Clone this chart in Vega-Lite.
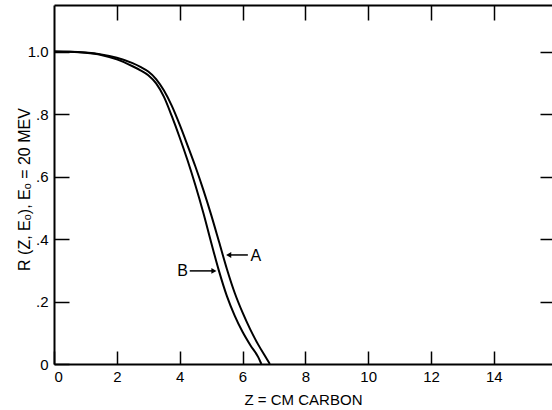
{
  "$schema": "https://vega.github.io/schema/vega-lite/v6.json",
  "width": 498,
  "height": 359,
  "autosize": {"type": "none"},
  "padding": {"left": 54, "top": 5, "right": 0, "bottom": 46},
  "background": "white",
  "config": {
    "view": {"stroke": null},
    "font": "Liberation Sans",
    "axis": {
      "grid": false,
      "domainColor": "black",
      "domainWidth": 2,
      "tickColor": "black",
      "tickWidth": 1.5,
      "labelColor": "black",
      "labelFontSize": 15,
      "titleColor": "black",
      "titleFontWeight": "normal"
    }
  },
  "datasets": {
    "curves": [
      {"curve": "B", "z": 0, "r": 1.0},
      {"curve": "B", "z": 0.5, "r": 0.999},
      {"curve": "B", "z": 1.0, "r": 0.996},
      {"curve": "B", "z": 1.5, "r": 0.989},
      {"curve": "B", "z": 2.0, "r": 0.975},
      {"curve": "B", "z": 2.5, "r": 0.953},
      {"curve": "B", "z": 2.75, "r": 0.94},
      {"curve": "B", "z": 3.0, "r": 0.924},
      {"curve": "B", "z": 3.25, "r": 0.898},
      {"curve": "B", "z": 3.5, "r": 0.855},
      {"curve": "B", "z": 3.75, "r": 0.793},
      {"curve": "B", "z": 4.0, "r": 0.725},
      {"curve": "B", "z": 4.25, "r": 0.652},
      {"curve": "B", "z": 4.5, "r": 0.572},
      {"curve": "B", "z": 4.75, "r": 0.485},
      {"curve": "B", "z": 5.0, "r": 0.39},
      {"curve": "B", "z": 5.25, "r": 0.298},
      {"curve": "B", "z": 5.5, "r": 0.218},
      {"curve": "B", "z": 5.75, "r": 0.155},
      {"curve": "B", "z": 6.0, "r": 0.103},
      {"curve": "B", "z": 6.25, "r": 0.06},
      {"curve": "B", "z": 6.5, "r": 0.022},
      {"curve": "B", "z": 6.6, "r": 0.0},
      {"curve": "A", "z": 0, "r": 1.0},
      {"curve": "A", "z": 0.5, "r": 0.9995},
      {"curve": "A", "z": 1.0, "r": 0.997},
      {"curve": "A", "z": 1.5, "r": 0.991},
      {"curve": "A", "z": 2.0, "r": 0.98},
      {"curve": "A", "z": 2.5, "r": 0.963},
      {"curve": "A", "z": 2.75, "r": 0.951},
      {"curve": "A", "z": 3.0, "r": 0.936},
      {"curve": "A", "z": 3.25, "r": 0.912},
      {"curve": "A", "z": 3.5, "r": 0.875},
      {"curve": "A", "z": 3.75, "r": 0.826},
      {"curve": "A", "z": 4.0, "r": 0.766},
      {"curve": "A", "z": 4.25, "r": 0.7},
      {"curve": "A", "z": 4.5, "r": 0.632},
      {"curve": "A", "z": 4.75, "r": 0.558},
      {"curve": "A", "z": 5.0, "r": 0.478},
      {"curve": "A", "z": 5.25, "r": 0.392},
      {"curve": "A", "z": 5.5, "r": 0.305},
      {"curve": "A", "z": 5.75, "r": 0.228},
      {"curve": "A", "z": 6.0, "r": 0.165},
      {"curve": "A", "z": 6.25, "r": 0.11},
      {"curve": "A", "z": 6.5, "r": 0.062},
      {"curve": "A", "z": 6.75, "r": 0.02},
      {"curve": "A", "z": 6.87, "r": 0.0}
    ],
    "arrows": [
      {"curve": "A", "tip": 5.56, "tail": 6.17, "r": 0.349, "dir": "left"},
      {"curve": "B", "tip": 5.09, "tail": 4.32, "r": 0.298, "dir": "right"}
    ],
    "labels": [
      {"curve": "A", "z": 6.42, "r": 0.346},
      {"curve": "B", "z": 4.09, "r": 0.298}
    ]
  },
  "layer": [
    {
      "data": {"name": "curves"},
      "mark": {"type": "line", "color": "black", "strokeWidth": 2, "interpolate": "monotone"},
      "encoding": {
        "x": {
          "field": "z", "type": "quantitative",
          "scale": {"domain": [0, 15.85], "nice": false, "zero": false},
          "axis": {
            "orient": "bottom",
            "values": [0, 2, 4, 6, 8, 10, 12, 14],
            "tickSize": -13,
            "labelPadding": 18,
            "title": "Z = CM CARBON",
            "titleFontSize": 15,
            "titleX": 249,
            "titleY": 40,
            "titleBaseline": "alphabetic"
          }
        },
        "y": {
          "field": "r", "type": "quantitative",
          "scale": {"domain": [0, 1.149], "nice": false},
          "axis": {
            "orient": "left",
            "values": [0, 0.2, 0.4, 0.6, 0.8, 1.0],
            "labelExpr": "datum.value == 0 ? '0' : (datum.value == 1 ? '1.0' : '.' + format(datum.value * 10, 'd'))",
            "tickSize": -15,
            "labelPadding": 21,
            "title": "R (Z, Eₒ), Eₒ = 20 MEV",
            "titleFontSize": 16,
            "titleAngle": -90,
            "titleX": -25,
            "titleY": 184,
            "titleAlign": "center",
            "titleBaseline": "alphabetic"
          }
        },
        "detail": {"field": "curve"}
      }
    },
    {
      "data": {"name": "arrows"},
      "mark": {"type": "rule", "color": "black", "strokeWidth": 1.5},
      "encoding": {
        "x": {
          "field": "tip", "type": "quantitative",
          "axis": {
            "orient": "top",
            "values": [2, 4, 6, 8, 10, 12, 14],
            "labels": false,
            "tickSize": -15,
            "title": null
          }
        },
        "x2": {"field": "tail"},
        "y": {
          "field": "r", "type": "quantitative",
          "axis": {
            "orient": "right",
            "values": [0.2, 0.4, 0.6, 0.8, 1.0],
            "labels": false,
            "domain": false,
            "tickSize": -12,
            "title": null
          }
        }
      }
    },
    {
      "data": {"name": "arrows"},
      "mark": {"type": "point", "filled": true, "color": "black", "opacity": 1, "size": 35},
      "encoding": {
        "x": {"field": "tip", "type": "quantitative", "axis": null},
        "y": {"field": "r", "type": "quantitative", "axis": null},
        "shape": {
          "field": "dir", "type": "nominal",
          "scale": {"domain": ["left", "right"], "range": ["triangle-left", "triangle-right"]},
          "legend": null
        }
      }
    },
    {
      "data": {"name": "labels"},
      "mark": {"type": "text", "color": "black", "fontSize": 16, "align": "center", "baseline": "middle", "font": "Liberation Sans"},
      "encoding": {
        "x": {"field": "z", "type": "quantitative", "axis": null},
        "y": {"field": "r", "type": "quantitative", "axis": null},
        "text": {"field": "curve"}
      }
    }
  ],
  "resolve": {"axis": {"x": "independent", "y": "independent"}}
}
